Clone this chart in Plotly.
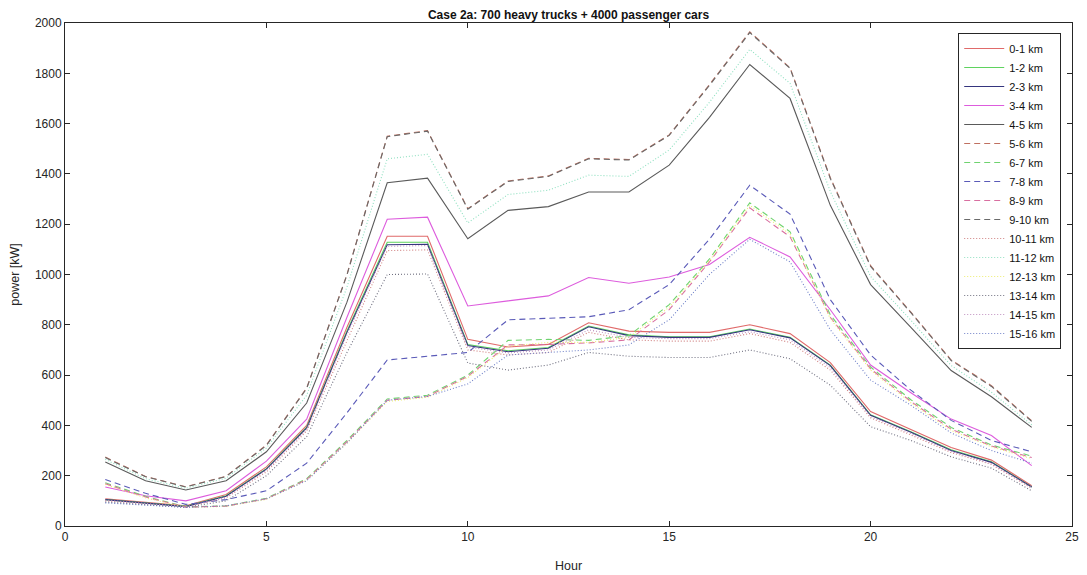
import plotly.graph_objects as go

hours = list(range(1, 25))
labels = ["0-1 km", "1-2 km", "2-3 km", "3-4 km", "4-5 km", "5-6 km", "6-7 km", "7-8 km",
          "8-9 km", "9-10 km", "10-11 km", "11-12 km", "12-13 km", "13-14 km", "14-15 km", "15-16 km"]

s0 = [108, 95, 80, 125, 235, 400, 790, 1152, 1152, 742, 712, 722, 808, 775, 770, 770, 800, 765, 650, 455, 385, 312, 262, 160]
s1 = [105, 92, 78, 120, 228, 393, 775, 1128, 1128, 722, 697, 710, 795, 760, 752, 752, 783, 750, 640, 442, 375, 303, 255, 155]
s2 = [105, 92, 77, 118, 226, 390, 770, 1118, 1120, 718, 693, 707, 792, 757, 750, 750, 780, 748, 638, 440, 373, 300, 253, 155]
s3 = [155, 120, 100, 140, 258, 425, 830, 1220, 1228, 875, 895, 915, 988, 965, 990, 1040, 1148, 1070, 860, 640, 530, 425, 360, 240]
s4 = [254, 180, 143, 180, 295, 489, 890, 1365, 1383, 1142, 1255, 1270, 1328, 1328, 1435, 1625, 1835, 1700, 1275, 960, 790, 618, 514, 392]
s5 = [274, 197, 156, 198, 322, 549, 1000, 1550, 1572, 1262, 1372, 1392, 1462, 1457, 1555, 1755, 1965, 1822, 1385, 1035, 850, 660, 558, 418]
s6 = [172, 118, 76, 80, 110, 188, 340, 505, 520, 600, 738, 742, 738, 757, 880, 1062, 1285, 1170, 840, 632, 502, 392, 322, 278]
s7 = [185, 130, 86, 105, 140, 250, 450, 660, 675, 690, 820, 825, 832, 860, 960, 1140, 1355, 1240, 900, 680, 540, 420, 340, 295]
s8 = [168, 115, 75, 79, 108, 185, 335, 500, 515, 595, 720, 722, 728, 740, 860, 1050, 1265, 1150, 830, 625, 495, 385, 318, 272]
s9 = [272, 196, 155, 197, 320, 547, 998, 1548, 1570, 1260, 1370, 1390, 1460, 1455, 1553, 1752, 1962, 1820, 1382, 1032, 848, 658, 555, 416]
s10 = [100, 88, 75, 112, 215, 378, 740, 1095, 1098, 700, 680, 690, 770, 740, 735, 735, 765, 730, 620, 430, 362, 292, 245, 150]
s11 = [265, 188, 150, 190, 310, 520, 950, 1460, 1478, 1205, 1318, 1335, 1395, 1390, 1495, 1685, 1895, 1760, 1330, 992, 818, 638, 532, 402]
s12 = [165, 112, 74, 78, 106, 182, 330, 495, 512, 590, 715, 730, 730, 750, 870, 1055, 1275, 1160, 825, 620, 490, 380, 315, 268]
s13 = [95, 85, 74, 100, 200, 355, 690, 1000, 1002, 648, 620, 640, 690, 675, 670, 670, 700, 665, 560, 395, 340, 275, 230, 140]
s14 = [103, 90, 76, 115, 222, 385, 760, 1112, 1115, 712, 688, 700, 780, 750, 745, 745, 772, 740, 630, 436, 368, 296, 248, 152]
s15 = [92, 84, 74, 80, 108, 180, 330, 500, 515, 565, 680, 690, 700, 720, 820, 1000, 1140, 1050, 780, 580, 480, 370, 300, 250]

series = [s0, s1, s2, s3, s4, s5, s6, s7, s8, s9, s10, s11, s12, s13, s14, s15]

colors = ["#e06a6a", "#5fd35f", "#35357e", "#dd5cdd", "#5a5a5a",
          "#c07060", "#6fd36f", "#5a5ab8", "#d86fa0", "#6a6a6a",
          "#d08080", "#8fe0c0", "#eeee70", "#707080", "#c090c0", "#6f80c8"]
dashes = ["solid"] * 5 + ["6px,4px"] * 5 + ["1px,2px"] * 6

fig = go.Figure()
for lab, ys, c, d in zip(labels, series, colors, dashes):
    fig.add_trace(go.Scatter(x=hours, y=ys, mode="lines", name=lab,
                             line=dict(color=c, width=1.1, dash=d)))

axis_common = dict(showgrid=False, zeroline=False, showline=True, linecolor="#262626",
                   linewidth=1, mirror="ticks", ticks="inside", ticklen=5, automargin=False,
                   tickcolor="#262626", tickfont=dict(family="Liberation Sans, Arial", size=12, color="#262626"))

fig.update_layout(
    width=1079, height=567,
    margin=dict(l=57, r=15, t=15, b=49),
    paper_bgcolor="white", plot_bgcolor="white",
    title=dict(text="<b>Case 2a: 700 heavy trucks + 4000 passenger cars</b>",
               x=0.5, xref="paper", y=0.988, yanchor="middle",
               font=dict(family="Liberation Sans, Arial", size=12, color="#111")),
    xaxis=dict(range=[0, 25], tickvals=[0, 5, 10, 15, 20, 25],
               title=dict(text="Hour", standoff=17,
                          font=dict(family="Liberation Sans, Arial", size=12.5, color="#262626")),
               **axis_common),
    yaxis=dict(range=[0, 2000], tickvals=list(range(0, 2001, 200)),
               title=dict(text="power [kW]", standoff=12,
                          font=dict(family="Liberation Sans, Arial", size=12.5, color="#262626")),
               **axis_common),
    legend=dict(x=0.887, y=0.980, xanchor="left", yanchor="top",
                bgcolor="white", bordercolor="#262626", borderwidth=1,
                font=dict(family="Liberation Sans, Arial", size=11, color="#111"),
                tracegroupgap=0, itemwidth=40),
    showlegend=True,
)

fig.write_html("out.html")
